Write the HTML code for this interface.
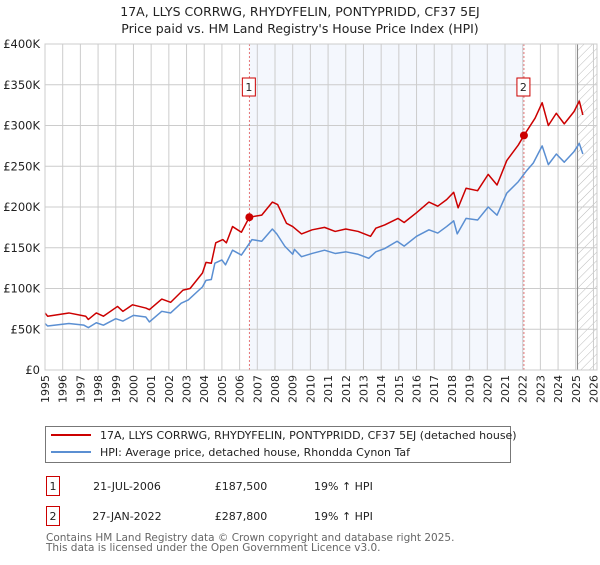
<!DOCTYPE html>
<html><head><meta charset="utf-8"><style>
body{margin:0;background:#fff;font-family:"Liberation Sans","DejaVu Sans",sans-serif;}
svg text{font-family:"DejaVu Sans","Liberation Sans",sans-serif;}
</style></head><body>
<svg id="chart" width="600" height="560" viewBox="0 0 600 560" xmlns="http://www.w3.org/2000/svg">
<defs><pattern id="hatch" width="6" height="6" patternUnits="userSpaceOnUse" patternTransform="rotate(45)"><line x1="0" y1="0" x2="0" y2="6" stroke="#bbb" stroke-width="1"/></pattern></defs>
<text x="300" y="16" text-anchor="middle" font-size="12.5" fill="#222">17A, LLYS CORRWG, RHYDYFELIN, PONTYPRIDD, CF37 5EJ</text>
<text x="300" y="33" text-anchor="middle" font-size="12.5" fill="#222">Price paid vs. HM Land Registry's House Price Index (HPI)</text>
<g id="plot"></g>
<g>
<rect x="45.5" y="426.5" width="465" height="36" fill="#fff" stroke="#777"/>
<line x1="51" y1="435" x2="91" y2="435" stroke="#cc0000" stroke-width="2"/>
<text x="100" y="439" font-size="11" fill="#222">17A, LLYS CORRWG, RHYDYFELIN, PONTYPRIDD, CF37 5EJ (detached house)</text>
<line x1="51" y1="452" x2="91" y2="452" stroke="#5b8fd2" stroke-width="2"/>
<text x="100" y="456" font-size="11" fill="#222">HPI: Average price, detached house, Rhondda Cynon Taf</text>
</g>
<g font-size="11" fill="#222">
<rect x="46.5" y="476.5" width="13" height="19" fill="#fff" stroke="#cc0000"/>
<text x="53" y="490" text-anchor="middle">1</text>
<text x="127" y="490" text-anchor="middle">21-JUL-2006</text>
<text x="241" y="490" text-anchor="middle">£187,500</text>
<text x="314" y="490">19% ↑ HPI</text>
</g>
<g font-size="11" fill="#222">
<rect x="46.5" y="506.5" width="13" height="19" fill="#fff" stroke="#cc0000"/>
<text x="53" y="520" text-anchor="middle">2</text>
<text x="127" y="520" text-anchor="middle">27-JAN-2022</text>
<text x="241" y="520" text-anchor="middle">£287,800</text>
<text x="314" y="520">19% ↑ HPI</text>
</g>
<text x="46" y="541" font-size="10.5" fill="#666">Contains HM Land Registry data © Crown copyright and database right 2025.</text>
<text x="46" y="551" font-size="10.5" fill="#666">This data is licensed under the Open Government Licence v3.0.</text>
</svg>
<script>
const yTicks=[0,50,100,150,200,250,300,350,400];
const yTickLabels=["£0","£50K","£100K","£150K","£200K","£250K","£300K","£350K","£400K"];
const xTicks=[1995,1996,1997,1998,1999,2000,2001,2002,2003,2004,2005,2006,2007,2008,2009,2010,2011,2012,2013,2014,2015,2016,2017,2018,2019,2020,2021,2022,2023,2024,2025,2026];
const hpiYears=[1995,1995.15,1996.35,1997.2,1997.45,1997.9,1998.3,1999,1999.4,2000,2000.7,2000.9,2001.6,2002.1,2002.7,2003.1,2003.9,2004.1,2004.4,2004.6,2005,2005.2,2005.6,2006.1,2006.7,2007.25,2007.85,2008.1,2008.55,2009,2009.1,2009.5,2010.1,2010.8,2011.4,2012,2012.7,2013.3,2013.7,2014.2,2014.9,2015.3,2016,2016.7,2017.2,2017.7,2018.1,2018.3,2018.8,2019.45,2020.05,2020.55,2021.1,2021.75,2022.2,2022.6,2023.1,2023.45,2023.9,2024.35,2024.9,2025.2,2025.4];
const hpiValues=[57,54,57,55,52,58,55,63,60,67,65,59,72,70,82,86,102,110,111,131,135,129,147,141,160,158,173,167,152,142,148,139,143,147,143,145,142,137,145,149,158,152,164,172,168,176,183,167,186,184,200,190,217,231,244,254,275,252,265,255,268,278,265];
const priceYears=[1995,1995.15,1996.35,1997.3,1997.45,1997.9,1998.3,1999.1,1999.4,1999.95,2000.7,2000.9,2001.6,2002.1,2002.8,2003.2,2003.9,2004.1,2004.4,2004.65,2005.05,2005.25,2005.6,2006.1,2006.55,2007.25,2007.85,2008.15,2008.65,2009,2009.5,2010.1,2010.8,2011.4,2012,2012.7,2013.4,2013.7,2014.2,2014.95,2015.3,2016,2016.7,2017.2,2017.7,2018.1,2018.35,2018.8,2019.45,2020.05,2020.55,2021.1,2021.75,2022.07,2022.7,2023.1,2023.45,2023.9,2024.35,2024.9,2025.2,2025.4];
const priceValues=[70,66,70,66,62,70,66,78,72,80,76,74,87,83,98,100,119,132,131,156,160,156,176,169,187.5,190,206,203,180,176,167,172,175,170,173,170,164,174,178,186,181,193,206,201,209,218,199,223,220,240,227,257,276,287.8,309,328,300,315,302,317,330,313];
const saleYears=[2006.55,2022.07];
const saleValues=[187.5,287.8];
const saleLabels=["1","2"];

const L=45,R=597,T=44,B=370,X0=1995,X1=2026.2,YMAX=400;
const sx=y=>L+(y-X0)*(R-L)/(X1-X0);
const sy=v=>B-v*(B-T)/YMAX;
const NS="http://www.w3.org/2000/svg";
const g=document.getElementById('plot');
function mk(tag,attrs,parent){const e=document.createElementNS(NS,tag);for(const k in attrs)e.setAttribute(k,attrs[k]);(parent||g).appendChild(e);return e;}

let e=mk('rect',{x:sx(saleYears[0]),y:T,width:sx(saleYears[1])-sx(saleYears[0]),height:B-T,fill:'#f4f7fd'});


e=mk('rect',{x:sx(2025.1),y:T,width:R-sx(2025.1),height:B-T,fill:'url(#hatch)'});



xTicks.forEach(yr=>{
  const l=mk('line',{x1:sx(yr),x2:sx(yr),y1:T,y2:B,stroke:'#ccc','stroke-width':1});
  
  
  const t=mk('text',{transform:`translate(${sx(yr)+4},${B+5}) rotate(-90)`,'text-anchor':'end','font-size':11,fill:'#222'});
  t.textContent=yr;
  
  
});
yTicks.forEach((v,i)=>{
  const l=mk('line',{x1:L,x2:R,y1:sy(v),y2:sy(v),stroke:'#ccc','stroke-width':1});
  
  
  const t=mk('text',{x:L-5,y:sy(v)+4,'text-anchor':'end','font-size':11.5,fill:'#222'});
  t.textContent=yTickLabels[i];
  
  
});
e=mk('line',{x1:sx(2025.1),x2:sx(2025.1),y1:T,y2:B,stroke:'#888','stroke-width':1});



saleYears.forEach((yr,i)=>{
  const l=mk('line',{x1:sx(yr),x2:sx(yr),y1:T,y2:B,stroke:'#e05555','stroke-width':0.8,'stroke-dasharray':'2,2'});
  
  
  const r=mk('rect',{x:sx(yr)-7,y:78,width:13,height:18,fill:'#fff',stroke:'#cc0000'});
  
  
  const t=mk('text',{x:sx(yr)-0.5,y:91,'text-anchor':'middle','font-size':11,fill:'#222'});
  t.textContent=saleLabels[i];
  
  
});

const hp=mk('polyline',{points:hpiYears.map((y,i)=>sx(y)+','+sy(hpiValues[i])).join(' '),fill:'none',stroke:'#5b8fd2','stroke-width':1.5,'stroke-linejoin':'round'});


const pp=mk('polyline',{points:priceYears.map((y,i)=>sx(y)+','+sy(priceValues[i])).join(' '),fill:'none',stroke:'#cc0000','stroke-width':1.5,'stroke-linejoin':'round'});


saleYears.forEach((yr,i)=>{
  const c=mk('circle',{cx:sx(yr),cy:sy(saleValues[i]),r:4,fill:'#cc0000'});
  
  
});
e=mk('rect',{x:L,y:T,width:R-L,height:B-T,fill:'none',stroke:'#ccc'});


</script>
</body></html>
